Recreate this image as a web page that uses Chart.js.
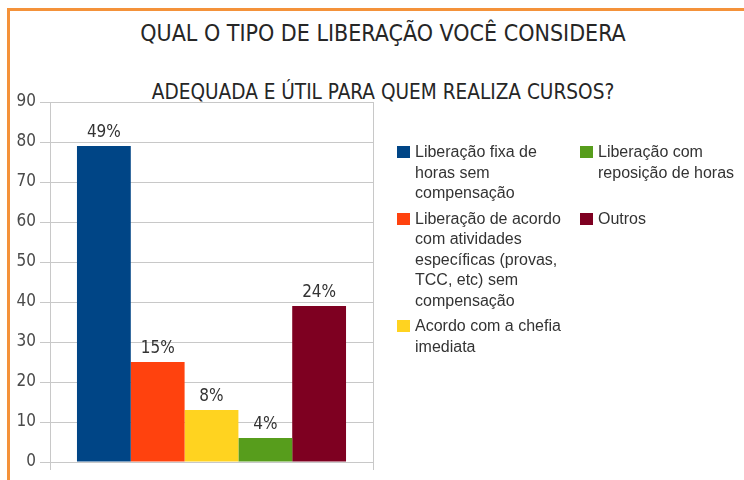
<!DOCTYPE html>
<html lang="pt">

<head>
    <meta charset="UTF-8">
    <title>Tipo de liberação</title>
    <style>
        html, body { margin: 0; padding: 0; background: #fff; overflow: hidden; }
        #page { position: relative; width: 744px; height: 480px; overflow: hidden; }
        #frame { position: absolute; left: 7px; top: 8px; width: 900px; height: 700px; border: 3px solid #f4923a; }
        .title { position: absolute; left: 0; width: 766px; text-align: center; color: #262626;
                 font-family: 'Liberation Sans Narrow', 'DejaVu Sans Condensed', sans-serif; white-space: nowrap; }
        #t1 { top: 20px; font-size: 23px; }
        #t2 { top: 80px; font-size: 20.6px; }
        #chartBox { position: absolute; left: 0; top: 0; width: 744px; height: 480px; }
        #legend { position: absolute; left: 397px; top: 142px; display: grid;
                  grid-template-columns: 183px auto; grid-template-rows: repeat(3, auto);
                  grid-auto-flow: column; row-gap: 5px;
                  font-family: 'Liberation Sans', Arial, sans-serif; font-size: 16px; line-height: 20.5px; color: #333; }
        .item { display: flex; align-items: flex-start; }
        .sw { width: 13px; height: 12px; margin-top: 4px; margin-right: 5px; flex: none; }
    </style>
</head>

<body>
    <div id="page">
        <div id="frame"></div>
        <div class="title" id="t1">QUAL O TIPO DE LIBERAÇÃO VOCÊ CONSIDERA</div>
        <div class="title" id="t2">ADEQUADA E ÚTIL PARA QUEM REALIZA CURSOS?</div>
        <div id="chartBox"><canvas id="chart"></canvas></div>
        <div id="legend"></div>
    </div>

    <script src="https://cdn.jsdelivr.net/npm/chart.js@4.4.1/dist/chart.umd.min.js"></script>
    <script>
        // legend text, already wrapped as in the picture
        const seriesLines = [
            ['Liberação fixa de', 'horas sem', 'compensação'],
            ['Liberação de acordo', 'com atividades', 'específicas (provas,', 'TCC, etc) sem', 'compensação'],
            ['Acordo com a chefia', 'imediata'],
            ['Liberação com', 'reposição de horas'],
            ['Outros']
        ];
        const seriesValues = [79, 25, 13, 6, 39];
        const percentLabels = ['49%', '15%', '8%', '4%', '24%'];
        const seriesColors = ['#004586', '#ff420e', '#ffd320', '#579d1c', '#7e0021'];
        const yTicks = [0, 10, 20, 30, 40, 50, 60, 70, 80, 90];

        const narrow = "'Liberation Sans Narrow', 'DejaVu Sans Condensed', sans-serif";

        // draws the % text above each bar
        const percentPlugin = {
            id: 'percent',
            afterDatasetsDraw(chart) {
                const ctx = chart.ctx;
                ctx.save();
                ctx.font = '17px ' + narrow;
                ctx.fillStyle = '#333';
                ctx.textAlign = 'center';
                ctx.textBaseline = 'bottom';
                chart.data.datasets.forEach((ds, i) => {
                    const bar = chart.getDatasetMeta(i).data[0];
                    ctx.fillText(percentLabels[i], bar.x, bar.y - 5);
                });
                ctx.restore();
            }
        };

        const datasets = seriesLines.map((lines, i) => ({
            label: lines.join(' '),
            data: [seriesValues[i]],
            backgroundColor: seriesColors[i],
            borderWidth: 0,
            barPercentage: 1.0,
            categoryPercentage: 0.833
        }));

        new Chart(document.getElementById('chart'), {
            type: 'bar',
            data: { labels: [''], datasets: datasets },
            options: {
                responsive: true,
                maintainAspectRatio: false,
                animation: false,
                layout: { padding: { left: 0, right: 371, top: 102, bottom: 10 } },
                plugins: {
                    legend: { display: false },
                    title: { display: false },
                    tooltip: { enabled: false }
                },
                scales: {
                    x: {
                        grid: { offset: true, color: '#c8c8c8', tickLength: 8 },
                        border: { color: '#c8c8c8' },
                        ticks: { display: false }
                    },
                    y: {
                        min: yTicks[0],
                        max: yTicks[yTicks.length - 1],
                        afterBuildTicks(scale) { scale.ticks = yTicks.map(v => ({ value: v })); },
                        afterFit(scale) { scale.width = 50; },
                        grid: { color: '#c8c8c8', tickLength: 10 },
                        border: { color: '#c8c8c8' },
                        ticks: { padding: 4, color: '#4a4a4a', font: { family: narrow, size: 17 } }
                    }
                }
            },
            plugins: [percentPlugin]
        });

        // legend in two columns, filled column by column
        const legend = document.getElementById('legend');
        seriesLines.forEach((lines, i) => {
            const item = document.createElement('div');
            item.className = 'item';
            const sw = document.createElement('span');
            sw.className = 'sw';
            sw.style.background = seriesColors[i];
            const txt = document.createElement('span');
            txt.innerHTML = lines.join('<br>');
            item.appendChild(sw);
            item.appendChild(txt);
            legend.appendChild(item);
        });
    </script>
</body>

</html>
